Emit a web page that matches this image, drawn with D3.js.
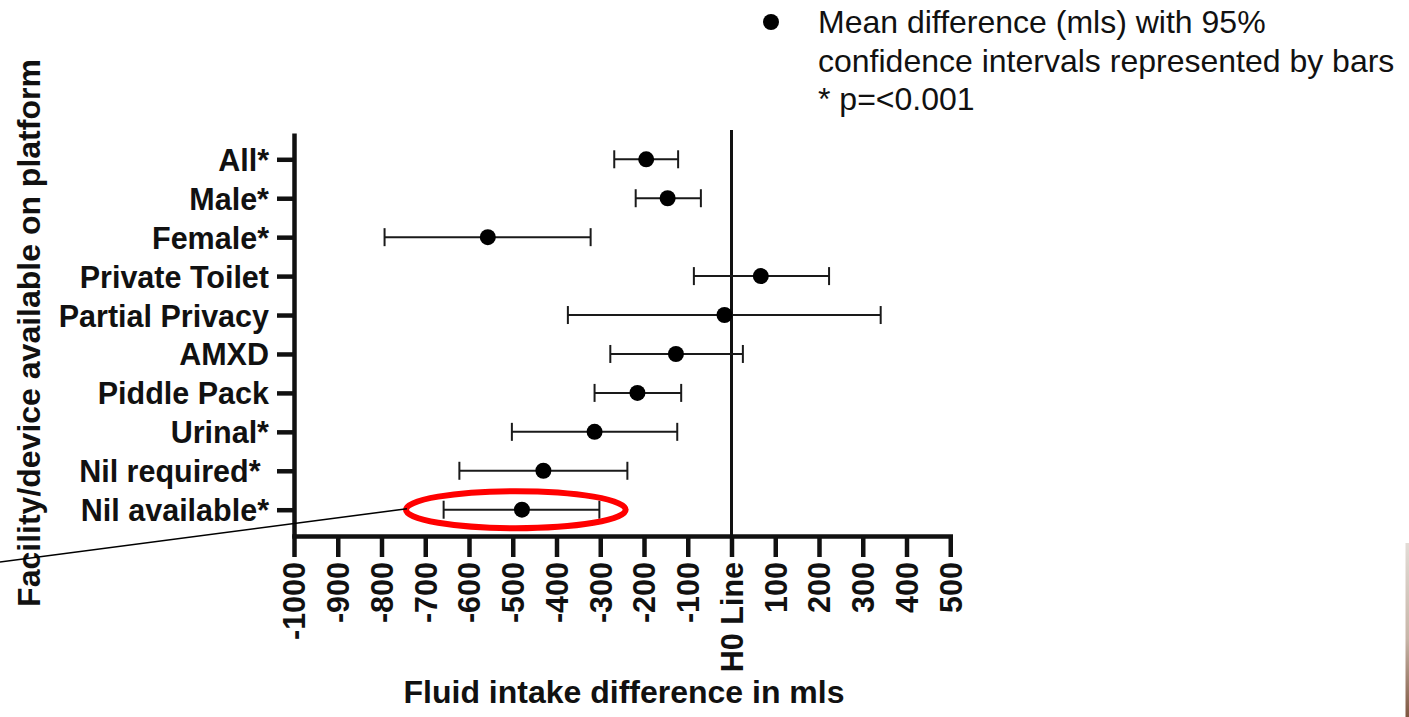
<!DOCTYPE html>
<html>
<head>
<meta charset="utf-8">
<script src="https://cdn.jsdelivr.net/npm/d3@7"></script>
<style>
  html, body { margin: 0; padding: 0; background: #fff; }
  svg { display: block; }
  text { font-family: "Liberation Sans", Arial, Helvetica, sans-serif; fill: #111; }
</style>
</head>
<body>
<svg id="chart" width="1409" height="717"></svg>
<script>
// ---- data ----
const categories = ["All*", "Male*", "Female*", "Private Toilet", "Partial Privacy",
                    "AMXD", "Piddle Pack", "Urinal*", "Nil required*", "Nil available*"];
const meanDiff = [-195, -146, -557, 67, -16, -127, -215, -313, -430, -479];
const ciLow    = [-268, -219, -793, -86, -374, -277, -313, -502, -622, -658];
const ciHigh   = [-122, -70, -322, 223, 341, 26, -115, -124, -238, -302];
const xTickValues = [-1000, -900, -800, -700, -600, -500, -400, -300, -200, -100, 0, 100, 200, 300, 400, 500];
const xTickLabels = ["-1000", "-900", "-800", "-700", "-600", "-500", "-400", "-300", "-200", "-100",
                     "H0 Line", "100", "200", "300", "400", "500"];
const legendLines = ["Mean difference (mls) with 95%", "confidence intervals represented by bars", "* p=<0.001"];
const xTitle = "Fluid intake difference in mls";
const yTitle = "Facility/device available on platform";

// ---- layout ----
const svg = d3.select("#chart");
const plotLeft = 294, plotTop = 133, plotBottom = 536;

const x = d3.scaleLinear().domain([-1000, 500]).range([plotLeft, plotLeft + 656.25]);
const y = d3.scalePoint().domain(categories).range([plotTop, plotBottom]).padding(0.675);

const rows = categories.map((c, i) => ({ c, m: meanDiff[i], lo: ciLow[i], hi: ciHigh[i] }));

// H0 line
svg.append("line")
  .attr("x1", x(0)).attr("x2", x(0))
  .attr("y1", plotTop - 3).attr("y2", plotBottom)
  .attr("stroke", "#111").attr("stroke-width", 3);

// y axis
const yAxisG = svg.append("g")
  .attr("transform", `translate(${plotLeft},0)`)
  .call(d3.axisLeft(y).tickSize(17).tickSizeOuter(0).tickPadding(8)
    .tickFormat(d => d === "Nil required*" ? d + "\u00a0" : d));
yAxisG.select(".domain").attr("stroke", "#111").attr("stroke-width", 4.5);
yAxisG.selectAll(".tick line").attr("stroke", "#111").attr("stroke-width", 4.5);
yAxisG.selectAll(".tick text")
  .attr("fill", "#111")
  .style("font-family", '"Liberation Sans", Arial, sans-serif')
  .style("font-size", "30.5px").style("font-weight", "bold")
  .attr("dy", "0.36em");

// x axis
const xAxisG = svg.append("g")
  .attr("transform", `translate(0,${plotBottom})`)
  .call(d3.axisBottom(x).tickValues(xTickValues)
    .tickFormat((d, i) => xTickLabels[i]).tickSize(21).tickSizeOuter(0));
xAxisG.select(".domain").attr("stroke", "#111").attr("stroke-width", 4.5)
  .attr("stroke-linecap", "square");
xAxisG.selectAll(".tick line").attr("stroke", "#111").attr("stroke-width", 4.5);
xAxisG.selectAll(".tick text")
  .attr("fill", "#111")
  .style("font-family", '"Liberation Sans", Arial, sans-serif')
  .style("font-size", "30.5px").style("font-weight", "bold")
  .attr("transform", "rotate(-90)")
  .attr("text-anchor", "end")
  .attr("x", -26).attr("y", 0).attr("dy", "0.36em");

// error bars
const eb = svg.append("g").attr("stroke", "#1a1a1a").attr("stroke-width", 2);
eb.selectAll("line.ci").data(rows).join("line").attr("class", "ci")
  .attr("x1", d => x(d.lo)).attr("x2", d => x(d.hi))
  .attr("y1", d => y(d.c)).attr("y2", d => y(d.c));
eb.selectAll("line.capl").data(rows).join("line").attr("class", "capl")
  .attr("x1", d => x(d.lo)).attr("x2", d => x(d.lo))
  .attr("y1", d => y(d.c) - 9).attr("y2", d => y(d.c) + 9);
eb.selectAll("line.caph").data(rows).join("line").attr("class", "caph")
  .attr("x1", d => x(d.hi)).attr("x2", d => x(d.hi))
  .attr("y1", d => y(d.c) - 9).attr("y2", d => y(d.c) + 9);

// points
svg.append("g").selectAll("circle").data(rows).join("circle")
  .attr("cx", d => x(d.m)).attr("cy", d => y(d.c)).attr("r", 8)
  .attr("fill", "#000");

// axis titles
svg.append("text")
  .attr("x", 624).attr("y", 703)
  .attr("text-anchor", "middle")
  .style("font-size", "32px").style("font-weight", "bold")
  .text(xTitle);
svg.append("text")
  .attr("transform", "translate(40,333) rotate(-90)")
  .attr("text-anchor", "middle")
  .style("font-size", "32px").style("font-weight", "bold")
  .text(yTitle);

// legend
svg.append("circle").attr("cx", 771).attr("cy", 22).attr("r", 8).attr("fill", "#000");
svg.append("g").selectAll("text").data(legendLines).join("text")
  .attr("x", 818).attr("y", (d, i) => [33, 72, 110][i])
  .style("font-size", "32px").style("font-weight", "normal")
  .attr("fill", "#1a1a1a")
  .text(d => d);

// annotation: red ellipse around "Nil available*" row and pointer line
const annCat = "Nil available*";
const annCenter = -493, annHalfWidth = 251;
svg.append("ellipse")
  .attr("cx", x(annCenter)).attr("cy", y(annCat))
  .attr("rx", x(annCenter + annHalfWidth) - x(annCenter)).attr("ry", 18.5)
  .attr("fill", "none").attr("stroke", "#f00").attr("stroke-width", 6);
svg.append("line")
  .attr("x1", 0).attr("y1", 562)
  .attr("x2", x(annCenter - annHalfWidth) + 1).attr("y2", y(annCat) - 1)
  .attr("stroke", "#000").attr("stroke-width", 1.5);

// edge artefact at right
const grad = svg.append("defs").append("linearGradient")
  .attr("id", "edge").attr("x1", 0).attr("y1", 0).attr("x2", 0).attr("y2", 1);
grad.append("stop").attr("offset", "0%").attr("stop-color", "#e2dcd6");
grad.append("stop").attr("offset", "55%").attr("stop-color", "#c7b6a8");
grad.append("stop").attr("offset", "100%").attr("stop-color", "#7e5640");
svg.append("rect").attr("x", 1405.5).attr("y", 543).attr("width", 3.5).attr("height", 174)
  .attr("fill", "url(#edge)");
</script>
</body>
</html>
